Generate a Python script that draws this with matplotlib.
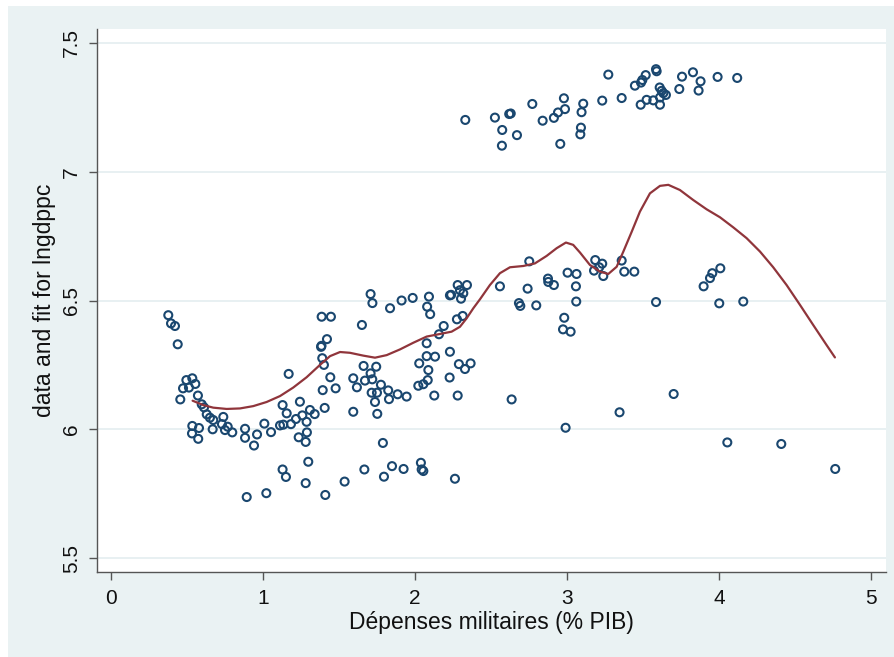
import matplotlib
matplotlib.use("Agg")
import matplotlib.pyplot as plt
from matplotlib.patches import Rectangle

plt.rcParams['font.family'] = ['Liberation Sans', 'DejaVu Sans']

# ---- data: scatter points (military spending % GDP, lngdppc) ----
mil_x = [
    0.377, 0.395, 0.421, 0.439, 0.496, 0.535, 0.474, 0.513, 0.555, 0.456, 0.572, 0.597,
    0.612, 0.630, 0.651, 0.673, 0.739, 0.730, 0.768, 0.750, 0.798, 0.669, 0.535, 0.579,
    0.533, 0.574, 0.882, 0.882, 0.941, 0.961, 1.009, 1.053, 1.112, 1.134, 1.129, 1.156,
    1.169, 1.184, 1.217, 1.243, 1.259, 1.287, 1.309, 1.340, 1.289, 1.235, 1.281, 1.406,
    1.393, 1.443, 1.478, 1.401, 1.390, 1.382, 1.385, 1.421, 1.386, 1.447, 1.651, 1.594,
    1.618, 1.594, 1.662, 1.708, 1.745, 1.671, 1.719, 1.776, 1.715, 1.750, 1.737, 1.752,
    1.824, 1.829, 1.886, 1.945, 1.789, 2.028, 2.077, 2.132, 2.077, 2.088, 2.084, 2.055,
    2.022, 2.127, 2.158, 2.189, 2.230, 2.228, 2.289, 2.329, 2.366, 2.281, 2.276, 2.314,
    1.708, 1.720, 1.836, 1.912, 1.985, 2.092, 2.080, 2.100, 2.230, 2.238, 2.281, 2.342,
    2.296, 2.318, 2.303,
    1.129, 1.151, 1.298, 1.281, 0.893, 1.022, 1.410, 1.537, 1.667, 1.796, 1.849, 1.925,
    2.039, 2.044, 2.055, 2.263,
    2.559, 2.752, 2.741, 2.875, 2.877, 2.914, 3.004, 3.063, 3.059, 3.186, 3.232, 3.212,
    3.178, 3.239, 3.360, 3.377, 3.443, 3.899, 3.941, 3.956, 4.009, 2.684, 2.693, 2.798,
    3.061, 3.586, 4.002, 4.160, 2.982, 2.974, 3.024, 2.636, 2.991, 3.346, 3.702, 4.055,
    4.410, 4.765,
    2.331, 2.526, 2.574, 2.572, 2.620, 2.630, 2.671, 2.772, 2.840, 2.914, 2.941, 2.980,
    2.987, 2.956, 3.096, 3.107, 3.092, 3.088, 3.232, 3.272, 3.360, 3.447, 3.487, 3.496,
    3.518, 3.485, 3.524, 3.568, 3.586, 3.590, 3.610, 3.623, 3.634, 3.651, 3.612, 3.612,
    3.739, 3.757, 3.829, 3.879, 3.866, 3.991, 4.120,
]
lngdppc = [
    6.443, 6.411, 6.401, 6.330, 6.191, 6.198, 6.159, 6.162, 6.176, 6.116, 6.131, 6.097,
    6.085, 6.058, 6.045, 6.036, 6.048, 6.020, 6.010, 5.997, 5.988, 6.000, 6.013, 6.005,
    5.984, 5.963, 6.002, 5.967, 5.937, 5.980, 6.022, 5.989, 6.015, 6.018, 6.094, 6.062,
    6.215, 6.020, 6.040, 6.107, 6.054, 6.029, 6.075, 6.059, 5.988, 5.969, 5.951, 6.083,
    6.152, 6.202, 6.159, 6.250, 6.276, 6.320, 6.324, 6.350, 6.437, 6.437, 6.405, 6.198,
    6.163, 6.068, 6.246, 6.217, 6.243, 6.189, 6.194, 6.173, 6.142, 6.142, 6.106, 6.060,
    6.151, 6.117, 6.136, 6.127, 5.947, 6.256, 6.284, 6.282, 6.334, 6.230, 6.191, 6.175,
    6.169, 6.131, 6.369, 6.401, 6.301, 6.201, 6.253, 6.234, 6.256, 6.131, 6.427, 6.440,
    6.525, 6.490, 6.470, 6.500, 6.510, 6.515, 6.476, 6.447, 6.520, 6.522, 6.560, 6.560,
    6.540, 6.528, 6.507,
    5.844, 5.815, 5.874, 5.791, 5.737, 5.752, 5.745, 5.797, 5.844, 5.816, 5.857, 5.846,
    5.870, 5.844, 5.838, 5.808,
    6.555, 6.652, 6.546, 6.585, 6.572, 6.560, 6.608, 6.603, 6.555, 6.657, 6.643, 6.629,
    6.616, 6.595, 6.655, 6.612, 6.612, 6.555, 6.587, 6.606, 6.625, 6.490, 6.479, 6.481,
    6.496, 6.494, 6.489, 6.496, 6.433, 6.388, 6.379, 6.116, 6.006, 6.066, 6.137, 5.949,
    5.943, 5.846,
    7.201, 7.210, 7.162, 7.101, 7.224, 7.226, 7.142, 7.263, 7.198, 7.209, 7.230, 7.285,
    7.243, 7.108, 7.231, 7.264, 7.171, 7.145, 7.276, 7.377, 7.286, 7.334, 7.346, 7.356,
    7.375, 7.260, 7.279, 7.277, 7.398, 7.390, 7.327, 7.314, 7.305, 7.298, 7.288, 7.260,
    7.321, 7.369, 7.386, 7.351, 7.315, 7.368, 7.364,
]

# ---- data: fitted curve ----
fit_x = [0.537, 0.607, 0.673, 0.761, 0.849, 0.936, 1.024, 1.112, 1.199, 1.287, 1.375,
         1.441, 1.507, 1.572, 1.660, 1.737, 1.814, 1.901, 1.989, 2.077, 2.164, 2.241,
         2.296, 2.340, 2.384, 2.428, 2.493, 2.559, 2.625, 2.713, 2.789, 2.866, 2.932,
         2.993, 3.041, 3.086, 3.151, 3.217, 3.272, 3.327, 3.371, 3.426, 3.480, 3.546,
         3.612, 3.667, 3.743, 3.831, 3.919, 4.007, 4.094, 4.182, 4.270, 4.357, 4.445,
         4.533, 4.620, 4.708, 4.763]
fit_y = [6.111, 6.094, 6.084, 6.079, 6.081, 6.090, 6.106, 6.129, 6.162, 6.202, 6.250,
         6.284, 6.300, 6.297, 6.286, 6.278, 6.288, 6.310, 6.336, 6.360, 6.370, 6.379,
         6.398, 6.431, 6.470, 6.505, 6.560, 6.606, 6.629, 6.634, 6.644, 6.673, 6.703,
         6.725, 6.716, 6.686, 6.638, 6.612, 6.603, 6.631, 6.690, 6.767, 6.845, 6.916,
         6.945, 6.949, 6.929, 6.890, 6.854, 6.823, 6.784, 6.742, 6.690, 6.629, 6.560,
         6.483, 6.405, 6.327, 6.279]

x_ticks = [0, 1, 2, 3, 4, 5]
y_ticks = [5.5, 6, 6.5, 7, 7.5]
y_tick_labels = ["5.5", "6", "6.5", "7", "7.5"]
x_label = "Dépenses militaires (% PIB)"
y_label = "data and fit for lngdppc"

W, H = 894, 657
bg = "#EAF2F3"
fig = plt.figure(figsize=(W / 100, H / 100), dpi=100, facecolor=bg)
# thin white strips at the top and left edges
fig.patches.append(Rectangle((0, 0), 8 / W, 1, transform=fig.transFigure,
                             facecolor="white", edgecolor="none", zorder=-5))
fig.patches.append(Rectangle((0, 1 - 6 / H), 1, 6 / H, transform=fig.transFigure,
                             facecolor="white", edgecolor="none", zorder=-5))

ax = fig.add_axes([97 / W, (H - 572) / H, (886 - 97) / W, (572 - 29) / H])
ax.set_facecolor("white")

ax.scatter(mil_x, lngdppc, s=33, facecolors="none", edgecolors="#1a476f",
           linewidths=1.5, zorder=3)
ax.plot(fit_x, fit_y, color="#90353b", linewidth=1.6, zorder=4,
        solid_joinstyle="round", solid_capstyle="round")

ax.set_xlim(-0.092, 5.099)
ax.set_ylim(5.446, 7.554)
ax.set_xticks(x_ticks)
ax.set_yticks(y_ticks)
ax.set_yticklabels(y_tick_labels, rotation=90, va="center")

ax.grid(axis="y", color="#E6EFF1", linewidth=1.3, zorder=0)
ax.set_axisbelow(True)

for s in ["top", "right"]:
    ax.spines[s].set_visible(False)
for s in ["left", "bottom"]:
    ax.spines[s].set_color("#555555")
    ax.spines[s].set_linewidth(1.0)

ax.tick_params(axis="both", direction="out", length=5.5, width=1.0, color="#555555",
               labelsize=15, labelcolor="#111111")
ax.tick_params(axis="x", pad=7)
ax.tick_params(axis="y", pad=6)

ax.set_xlabel(x_label, fontsize=16.5, color="#111111", labelpad=2)
ax.set_ylabel(y_label, fontsize=16.5, color="#111111", labelpad=4)

fig.savefig("out.png", dpi=100, facecolor=fig.get_facecolor())
